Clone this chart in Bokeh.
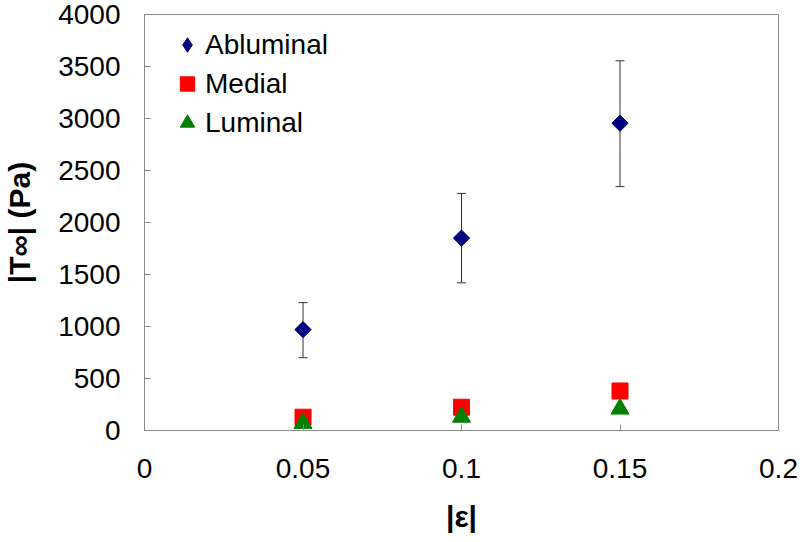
import numpy as np
from bokeh.plotting import figure
from bokeh.models import (ColumnDataSource, Whisker, TeeHead, Legend, LegendItem,
                          FixedTicker, Range1d)
from bokeh.embed import file_html
from bokeh.resources import INLINE

# ---- data ----
strain = [0.05, 0.10, 0.15]
abluminal = [970, 1850, 2955]
abluminal_lower = [700, 1420, 2345]
abluminal_upper = [1230, 2280, 3555]
medial = [128, 224, 380]
luminal = [70, 130, 208]

x_ticks = [0, 0.05, 0.1, 0.15, 0.2]
y_ticks = [0, 500, 1000, 1500, 2000, 2500, 3000, 3500, 4000]

FONT = "Liberation Sans"

p = figure(width=800, height=540, output_backend="svg", toolbar_location=None,
           x_range=Range1d(0, 0.2), y_range=Range1d(0, 4000),
           min_border_left=142, min_border_right=22, min_border_top=14,
           min_border_bottom=110)
p.xgrid.visible = False
p.ygrid.visible = False
p.outline_line_color = "#8c8c8c"
p.outline_line_width = 1
p.background_fill_color = "white"
p.border_fill_color = "white"

for ax in (p.xaxis, p.yaxis):
    ax.axis_line_color = "#8c8c8c"
    ax.major_tick_line_color = "#8c8c8c"
    ax.major_tick_in = 6
    ax.major_tick_out = 0
    ax.minor_tick_line_color = None
    ax.major_label_text_font = FONT
    ax.major_label_text_font_size = "28px"
    ax.major_label_text_color = "black"
    ax.axis_label_text_font = FONT
    ax.axis_label_text_font_style = "bold"
    ax.axis_label_text_font_size = "30px"
    ax.axis_label_text_color = "black"

p.xaxis.ticker = FixedTicker(ticks=x_ticks)
p.yaxis.ticker = FixedTicker(ticks=y_ticks)
p.xaxis.major_label_overrides = {0: "0", 0.05: "0.05", 0.1: "0.1", 0.15: "0.15", 0.2: "0.2"}
p.xaxis.major_label_standoff = 28
p.yaxis.major_label_standoff = 24
p.xaxis.axis_label = "|ε|"
p.yaxis.axis_label = "|T∞| (Pa)"
p.xaxis.axis_label_standoff = 19
p.yaxis.axis_label_standoff = 19

src_a = ColumnDataSource(dict(x=strain, y=abluminal, lo=abluminal_lower, hi=abluminal_upper,
                              ang=[np.pi / 4] * len(strain)))
src_m = ColumnDataSource(dict(x=strain, y=medial))
src_l = ColumnDataSource(dict(x=strain, y=luminal))

wh = Whisker(source=src_a, base="x", upper="hi", lower="lo", dimension="height",
             line_color="#333333", line_width=1,
             upper_head=TeeHead(size=9, line_color="#333333", line_width=1),
             lower_head=TeeHead(size=9, line_color="#333333", line_width=1))
p.add_layout(wh)

r_a = p.scatter("x", "y", source=src_a, marker="square", angle="ang", size=11.5,
                fill_color="#000080", line_color="#000080")
r_m = p.scatter("x", "y", source=src_m, marker="square", size=16,
                fill_color="#FF0000", line_color="#FF0000")
r_l = p.scatter("x", "y", source=src_l, marker="triangle", size=18,
                fill_color="#008000", line_color="#008000")
# legend-only glyph for the diamond symbol (not drawn in the plot)
r_a_leg = p.scatter("x", "y", source=src_a, marker="diamond",
                    fill_color="#000080", line_color="#000080", visible=False)

legend = Legend(items=[LegendItem(label="Abluminal", renderers=[r_a_leg]),
                       LegendItem(label="Medial", renderers=[r_m]),
                       LegendItem(label="Luminal", renderers=[r_l])],
                location=(25, 288), margin=0, padding=0, spacing=0,
                label_height=39, glyph_height=39, glyph_width=36, label_standoff=0,
                label_text_font=FONT, label_text_font_size="28px",
                label_text_color="black",
                border_line_color=None, background_fill_alpha=0)
p.add_layout(legend)

open("out.html", "w").write(file_html(p, INLINE))
